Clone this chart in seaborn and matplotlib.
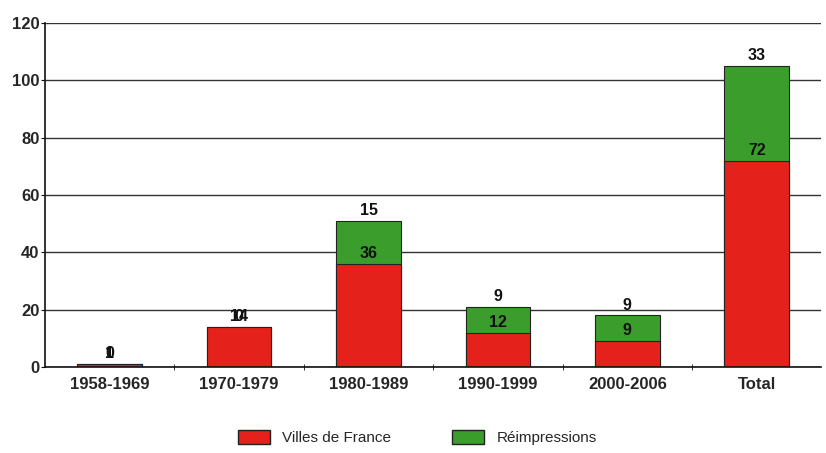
import numpy as np
import pandas as pd
import matplotlib
matplotlib.use("Agg")
import matplotlib.pyplot as plt
import seaborn as sns
from matplotlib.patches import Patch

periods = ["1958-1969", "1970-1979", "1980-1989", "1990-1999", "2000-2006", "Total"]
villes = [1, 14, 36, 12, 9, 72]
reimpressions = [0, 0, 15, 9, 9, 33]

red = "#e5211b"
green = "#3b9e2c"

df = pd.DataFrame({"period": periods, "villes": villes, "reimp": reimpressions})
df["total"] = df["villes"] + df["reimp"]

sns.set_style("white")
plt.rcParams["font.family"] = ["Liberation Sans", "DejaVu Sans"]

fig = plt.figure(figsize=(8.26, 4.53), dpi=100)
ax = fig.add_axes([0.0545, 0.19, 0.94, 0.759])

sns.barplot(data=df, x="period", y="total", color=green, width=0.5,
            edgecolor="#222222", linewidth=0.8, saturation=1, ax=ax)
sns.barplot(data=df, x="period", y="villes", color=red, width=0.5,
            edgecolor="#222222", linewidth=0.8, saturation=1, ax=ax)

# value labels: red value just above the red part, green value above the bar
for i, row in df.iterrows():
    ax.annotate(str(row["villes"]), (i, row["villes"]), xytext=(0, 2),
                textcoords="offset points", ha="center", va="bottom",
                fontsize=11.5, fontweight="bold", color="#111111")
    ax.annotate(str(row["reimp"]), (i, row["total"]), xytext=(0, 2),
                textcoords="offset points", ha="center", va="bottom",
                fontsize=11.5, fontweight="bold", color="#111111")

ax.set_ylim(0, 120)
ax.set_xlim(-0.5, 5.5)
ax.set_yticks(np.arange(0, 121, 20))
ax.yaxis.grid(True, color="#333333", linewidth=1.0)
ax.set_axisbelow(True)
ax.set_xlabel("")
ax.set_ylabel("")

for s in ["top", "right"]:
    ax.spines[s].set_visible(False)
for s in ["left", "bottom"]:
    ax.spines[s].set_color("#111111")
    ax.spines[s].set_linewidth(1.2)

ax.set_xticks(np.arange(0.5, 5.5, 1), minor=True)
ax.tick_params(axis="x", which="major", length=0, labelsize=12, pad=7)
ax.tick_params(axis="x", which="minor", length=4, direction="inout", color="#111111")
ax.tick_params(axis="y", length=3, direction="out", color="#111111", labelsize=12, pad=1)
ax.tick_params(left=True, bottom=True)
ax.xaxis.set_tick_params(which="minor", bottom=True)
for lbl in ax.get_xticklabels() + ax.get_yticklabels():
    lbl.set_fontweight("bold")

handles = [Patch(facecolor=red, edgecolor="#222222", label="Villes de France"),
           Patch(facecolor=green, edgecolor="#222222", label="Réimpressions")]
fig.legend(handles=handles, loc="center", bbox_to_anchor=(0.505, 0.034), ncol=2,
           frameon=False, fontsize=11, handlelength=2.1, handleheight=1.0,
           handletextpad=0.8, columnspacing=4.0)

fig.savefig("out.png", dpi=100)
